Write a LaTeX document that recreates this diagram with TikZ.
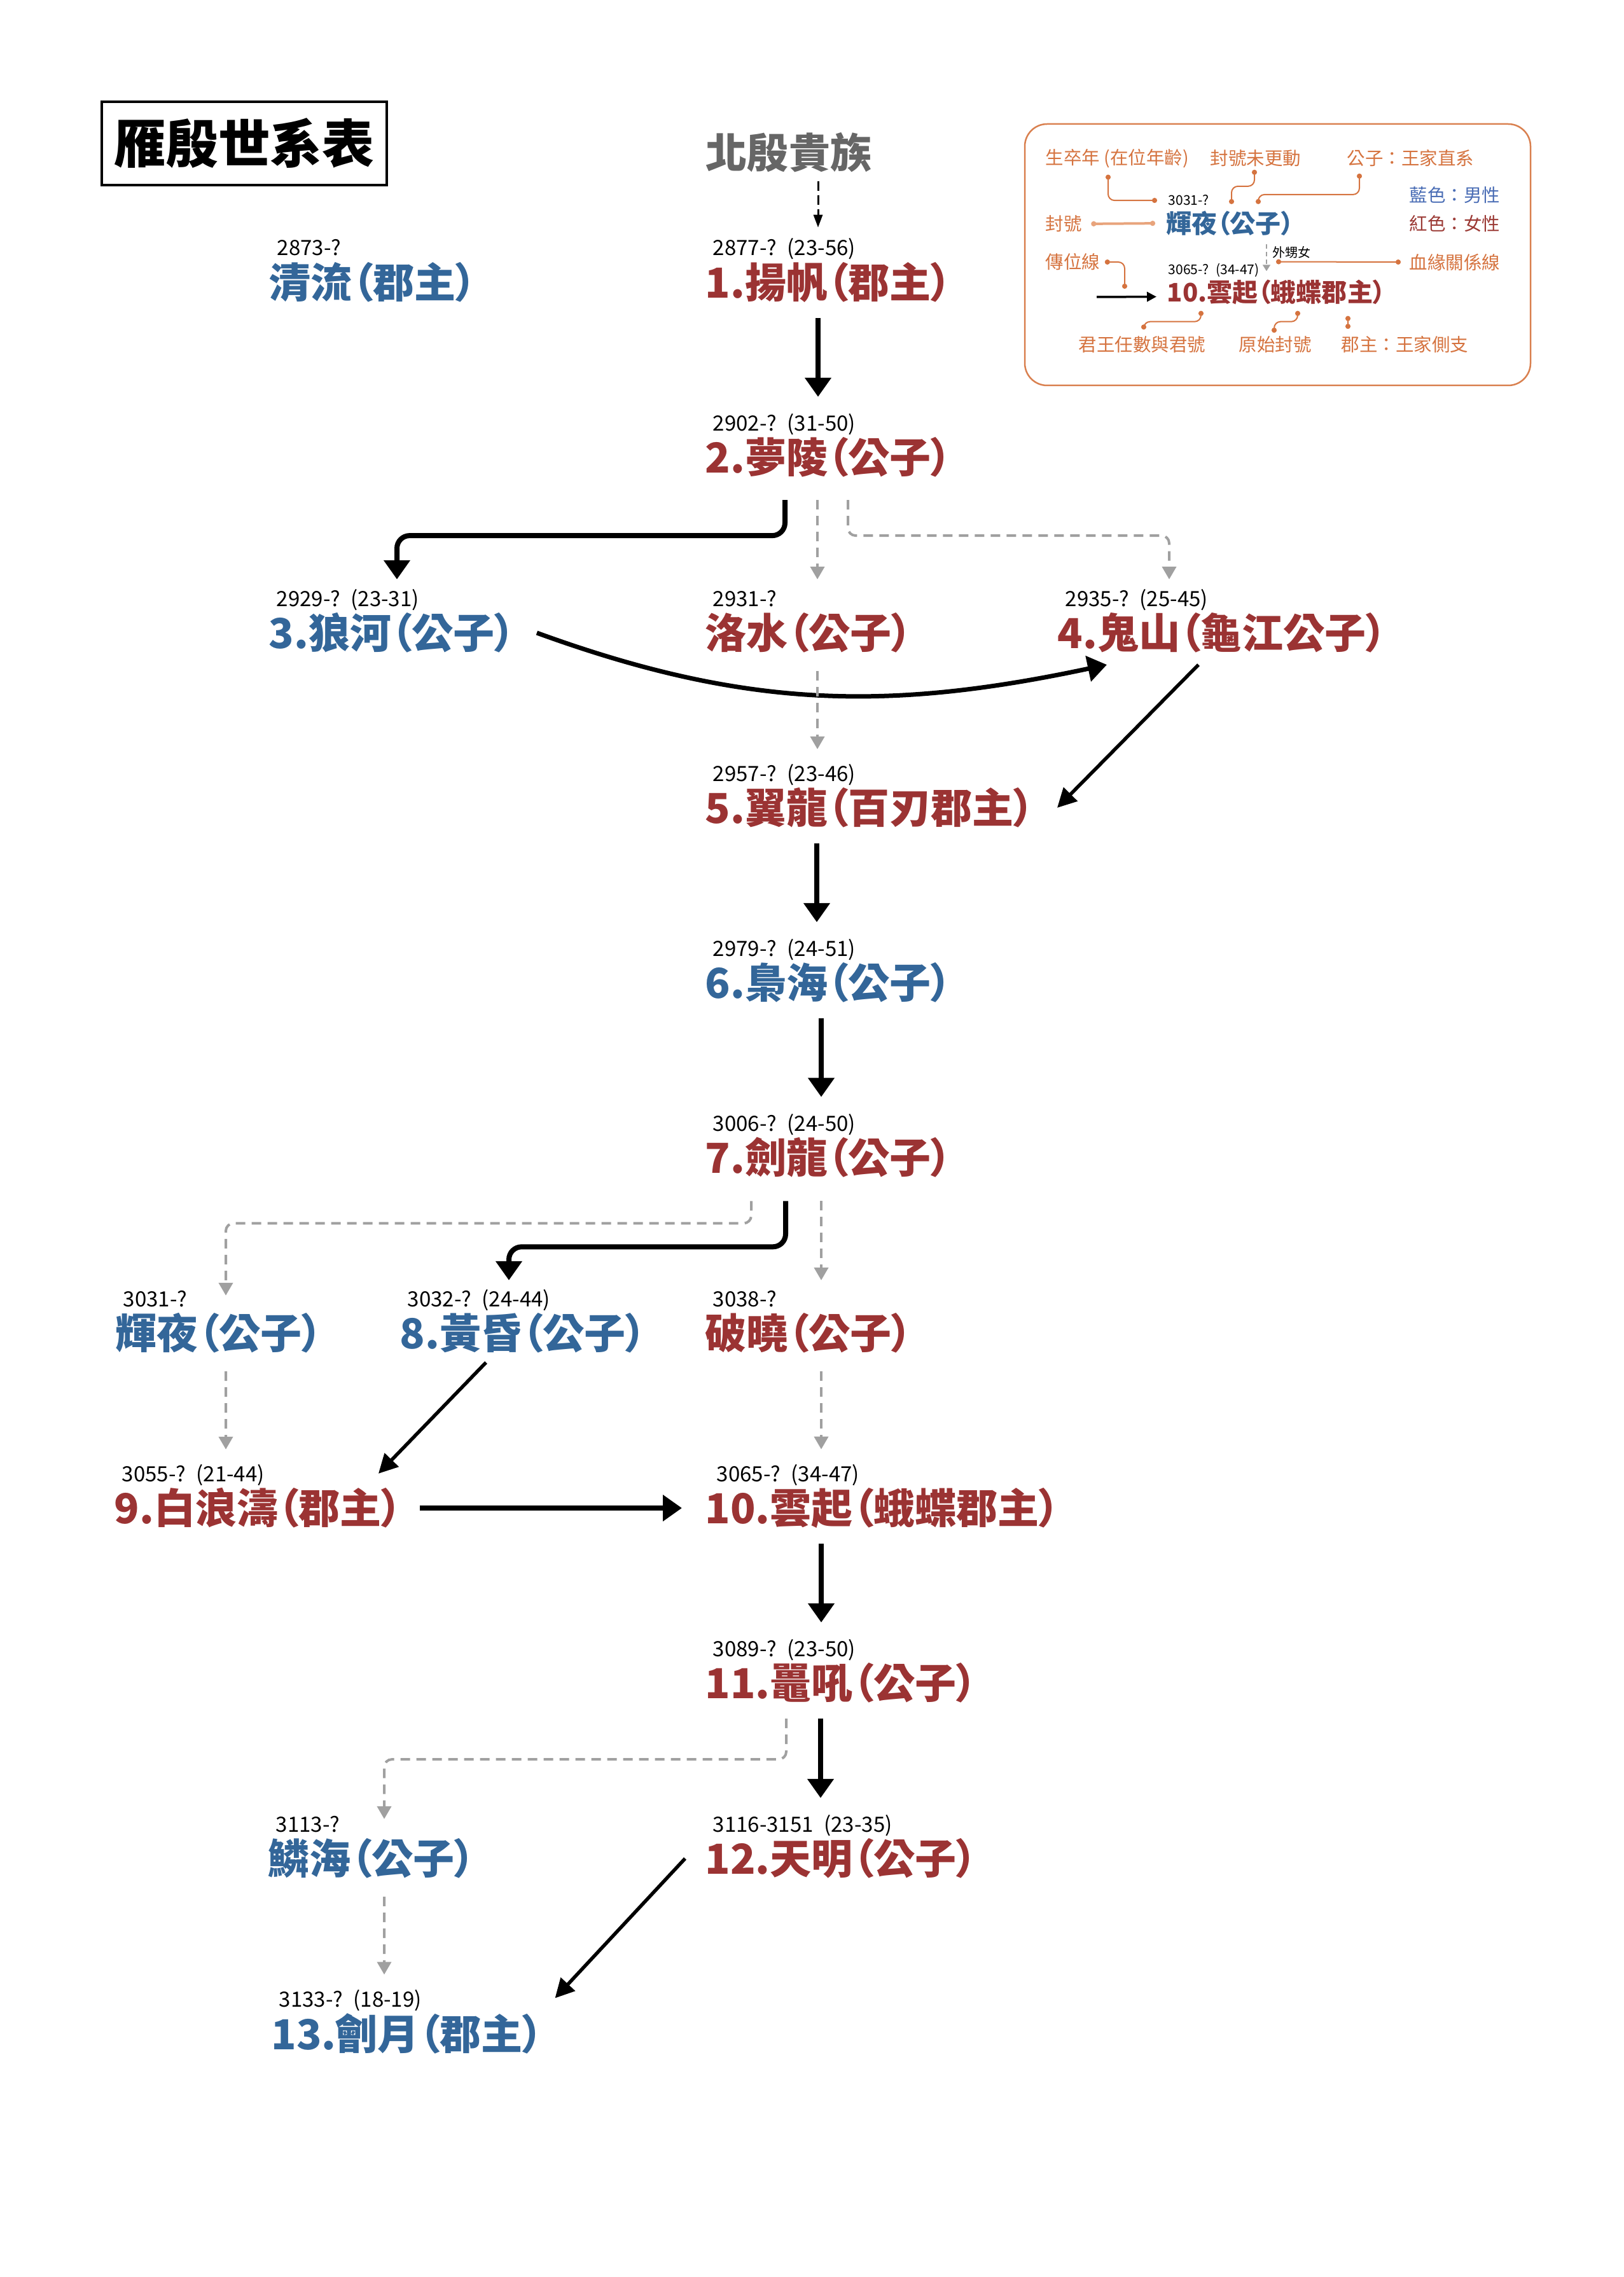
\documentclass[tikz,border=0pt]{standalone}
\usepackage{fontspec}
\setmainfont{Noto Sans CJK TC}
\newfontfamily\cjkname{Noto Sans CJK TC}[RawFeature=+palt]
\usetikzlibrary{arrows.meta}
\definecolor{nred}{HTML}{9B3333}
\definecolor{nblue}{HTML}{336699}
\definecolor{kgray}{HTML}{A0A0A0}
\definecolor{beigray}{HTML}{666666}
\definecolor{lorange}{HTML}{D5733F}
\definecolor{lpale}{HTML}{E8A47C}
\definecolor{lframe}{HTML}{D9804F}
\definecolor{lblue}{HTML}{4A6DB5}
\definecolor{lred}{HTML}{9B3A35}
\begin{document}
\begin{tikzpicture}[
    person/.style={anchor=west, inner sep=0pt, font=\cjkname\bfseries\fontsize{18.5pt}{20pt}\selectfont},
    fem/.style={person, text=nred},
    male/.style={person, text=nblue},
    yrs/.style={anchor=base west, inner sep=0pt, font=\fontsize{9.4pt}{10pt}\selectfont},
    succ/.style={draw=black, line width=0.08cm, -{Triangle[width=0.4cm,length=0.3cm]}},
    pass/.style={draw=black, line width=0.055cm, -{Triangle[width=0.3cm,length=0.3cm]}},
    kin/.style={draw=kgray, line width=0.04cm, dash pattern=on 0.15cm off 0.1cm,
      -{Triangle[width=0.22cm,length=0.2cm]}, rounded corners=0.12cm},
    vgap/.style={shorten <=0.24cm, shorten >=0.63cm},
    kgap/.style={shorten <=0.28cm, shorten >=0.6cm},
    lgtext/.style={anchor=west, inner sep=0pt, text=lorange, font=\fontsize{8.1pt}{9pt}\selectfont},
    lgperson/.style={anchor=west, inner sep=0pt, font=\cjkname\bfseries\fontsize{11.4pt}{12pt}\selectfont},
    lgyrs/.style={anchor=base west, inner sep=0pt, font=\fontsize{6pt}{7pt}\selectfont},
    lgline/.style={draw=lorange, line width=0.02cm, {Circle[length=0.08cm]}-{Circle[length=0.08cm]}, rounded corners=0.1cm},
  ]
  \useasboundingbox (0,0) rectangle (25.52,-35.80);

  % title and origin
  \node[draw, line width=0.045cm, minimum width=4.48cm, minimum height=1.31cm, inner sep=0pt,
    font=\bfseries\fontsize{23.3pt}{24pt}\selectfont] (title) at (3.84,-2.255) {雁殷世系表};
  \node[inner sep=0pt, text=beigray, font=\bfseries\fontsize{18.5pt}{20pt}\selectfont] (bei) at (12.40,-2.40) {北殷貴族};

  % generations
  \node[male] (qingliu) at (4.23,-4.44) {清流（郡主）};
  \node[yrs] (yqingliu) at ([shift={(0.12,0.42)}]qingliu.west) {2873-?};
  \node[fem] (n1) at (11.08,-4.44) {1.揚帆（郡主）};
  \node[yrs] (y1) at ([shift={(0.12,0.42)}]n1.west) {2877-?\enspace(23-56)};

  \node[fem] (n2) at (11.08,-7.19) {2.夢陵（公子）};
  \node[yrs] (y2) at ([shift={(0.12,0.42)}]n2.west) {2902-?\enspace(31-50)};

  \node[male] (n3) at (4.22,-9.95) {3.狼河（公子）};
  \node[yrs] (y3) at ([shift={(0.12,0.42)}]n3.west) {2929-?\enspace(23-31)};
  \node[fem] (luoshui) at (11.08,-9.95) {洛水（公子）};
  \node[yrs] (yluoshui) at ([shift={(0.12,0.42)}]luoshui.west) {2931-?};
  \node[fem] (n4) at (16.62,-9.95) {4.鬼山（龜江公子）};
  \node[yrs] (y4) at ([shift={(0.12,0.42)}]n4.west) {2935-?\enspace(25-45)};

  \node[fem] (n5) at (11.08,-12.70) {5.翼龍（百刃郡主）};
  \node[yrs] (y5) at ([shift={(0.12,0.42)}]n5.west) {2957-?\enspace(23-46)};

  \node[male] (n6) at (11.08,-15.45) {6.梟海（公子）};
  \node[yrs] (y6) at ([shift={(0.12,0.42)}]n6.west) {2979-?\enspace(24-51)};

  \node[fem] (n7) at (11.08,-18.20) {7.劍龍（公子）};
  \node[yrs] (y7) at ([shift={(0.12,0.42)}]n7.west) {3006-?\enspace(24-50)};

  \node[male] (huiye) at (1.81,-20.96) {輝夜（公子）};
  \node[yrs] (yhuiye) at ([shift={(0.12,0.42)}]huiye.west) {3031-?};
  \node[male] (n8) at (6.28,-20.96) {8.黃昏（公子）};
  \node[yrs] (y8) at ([shift={(0.12,0.42)}]n8.west) {3032-?\enspace(24-44)};
  \node[fem] (poxiao) at (11.08,-20.96) {破曉（公子）};
  \node[yrs] (ypoxiao) at ([shift={(0.12,0.42)}]poxiao.west) {3038-?};

  \node[fem] (n9) at (1.79,-23.71) {9.白浪濤（郡主）};
  \node[yrs] (y9) at ([shift={(0.12,0.42)}]n9.west) {3055-?\enspace(21-44)};
  \node[fem] (n10) at (11.08,-23.71) {10.雲起（蛾蝶郡主）};
  \node[yrs] (y10) at ([shift={(0.18,0.42)}]n10.west) {3065-?\enspace(34-47)};

  \node[fem] (n11) at (11.08,-26.46) {11.鼉吼（公子）};
  \node[yrs] (y11) at ([shift={(0.12,0.42)}]n11.west) {3089-?\enspace(23-50)};

  \node[male] (linhai) at (4.21,-29.22) {鱗海（公子）};
  \node[yrs] (ylinhai) at ([shift={(0.12,0.42)}]linhai.west) {3113-?};
  \node[fem] (n12) at (11.08,-29.22) {12.天明（公子）};
  \node[yrs] (y12) at ([shift={(0.12,0.42)}]n12.west) {3116-3151\enspace(23-35)};

  \node[male] (n13) at (4.26,-31.97) {13.劊月（郡主）};
  \node[yrs] (y13) at ([shift={(0.12,0.42)}]n13.west) {3133-?\enspace(18-19)};

  % succession
  \draw[line width=0.03cm, dash pattern=on 0.15cm off 0.07cm, -{Triangle[width=0.14cm,length=0.2cm]},
    shorten <=0.13cm, shorten >=0.54cm] ([xshift=0.46cm]bei.south) -- ([xshift=1.78cm]n1.north west);
  \draw[succ, vgap] ([xshift=1.78cm]n1.south west) -- ([xshift=1.78cm]n2.north west);
  \draw[succ, rounded corners=0.2cm, shorten <=0.35cm, shorten >=0.52cm]
    ([xshift=1.26cm]n2.south west) -- ++(0,-0.91) -| ([xshift=2.02cm]n3.north west);
  \draw[succ, line width=0.07cm] ([xshift=0.33cm]n3.east) to[out=-20,in=192] ([shift={(0.78,-0.18)}]n4.south west);
  \draw[pass] ([shift={(2.22,-0.18)}]n4.south west) -- ([xshift=0.35cm]n5.east);
  \draw[succ, vgap] ([xshift=1.76cm]n5.south west) -- ([xshift=1.76cm]n6.north west);
  \draw[succ, vgap] ([xshift=1.83cm]n6.south west) -- ([xshift=1.83cm]n7.north west);
  \draw[succ, rounded corners=0.2cm, shorten <=0.36cm, shorten >=0.51cm]
    ([xshift=1.27cm]n7.south west) -- ++(0,-1.08) -| ([xshift=1.72cm]n8.north west);
  \draw[pass] ([shift={(1.36,-0.14)}]n8.south west) -- ([shift={(-0.38,0.22)}]n9.north east);
  \draw[succ, shorten <=0.27cm, shorten >=0.36cm] (n9.east) -- (n10.west);
  \draw[succ, vgap] ([xshift=1.83cm]n10.south west) -- ([xshift=1.83cm]n11.north west);
  \draw[succ, vgap] ([xshift=1.82cm]n11.south west) -- ([xshift=1.82cm]n12.north west);
  \draw[pass] ([xshift=-0.31cm]n12.west) -- ([shift={(0.18,0.23)}]n13.north east);

  % kinship
  \draw[kin, shorten <=0.35cm, shorten >=0.52cm] ([xshift=1.77cm]n2.south west) -- ([xshift=1.77cm]luoshui.north west);
  \draw[kin, shorten <=0.35cm, shorten >=0.52cm]
    ([xshift=2.25cm]n2.south west) -- ++(0,-0.91) -| ([xshift=1.76cm]n4.north west);
  \draw[kin, kgap] ([xshift=1.77cm]luoshui.south west) -- ([xshift=1.77cm]n5.north west);
  \draw[kin, shorten <=0.36cm, shorten >=0.27cm]
    ([xshift=0.73cm]n7.south west) -- ++(0,-0.71) -| ([xshift=1.74cm]huiye.north west);
  \draw[kin, shorten <=0.36cm, shorten >=0.51cm] ([xshift=1.83cm]n7.south west) -- ([xshift=1.83cm]poxiao.north west);
  \draw[kin, kgap] ([xshift=1.74cm]huiye.south west) -- ([xshift=1.76cm]n9.north west);
  \draw[kin, kgap] ([xshift=1.83cm]poxiao.south west) -- ([xshift=1.83cm]n10.north west);
  \draw[kin, shorten <=0.24cm, shorten >=0.3cm]
    ([xshift=1.28cm]n11.south west) -- ++(0,-0.88) -| ([xshift=1.83cm]linhai.north west);
  \draw[kin, kgap] ([xshift=1.83cm]linhai.south west) -- ([xshift=1.78cm]n13.north west);

  % legend
  \draw[lframe, line width=0.025cm, rounded corners=0.35cm] (16.11,-1.95) rectangle (24.06,-6.06);
  \node[lgtext] (lbirth) at (16.43,-2.49) {生卒年 (在位年齡)};
  \node[lgtext] (lunch) at (19.02,-2.49) {封號未更動};
  \node[lgtext] (lprince) at (21.17,-2.49) {公子：王家直系};
  \node[lgtext, text=lblue] (lblue) at (22.15,-3.07) {藍色：男性};
  \node[lgtext, text=lred] (lred) at (22.15,-3.52) {紅色：女性};
  \node[lgtext] (ltitle) at (16.43,-3.52) {封號};
  \node[lgtext] (lline) at (16.43,-4.12) {傳位線};
  \node[lgtext] (lblood) at (22.15,-4.12) {血緣關係線};
  \node[lgtext] (lnum) at (16.95,-5.42) {君王任數與君號};
  \node[lgtext] (lorig) at (19.47,-5.42) {原始封號};
  \node[lgtext] (lbranch) at (21.08,-5.42) {郡主：王家側支};

  \node[lgperson, text=nblue] (lname) at (18.33,-3.51) {輝夜（公子）};
  \node[lgyrs] (lyrs) at (18.36,-3.23) {3031-?};
  \node[lgperson, text=nred] (lqueen) at (18.34,-4.595) {10.雲起（蛾蝶郡主）};
  \node[lgyrs] (lyrs2) at (18.36,-4.32) {3065-?\enspace(34-47)};
  \node[anchor=west, inner sep=0pt, font=\fontsize{5.7pt}{6pt}\selectfont] (lniece) at (20.00,-3.97) {外甥女};

  \coordinate (lin) at (17.24,-4.67);
  \draw[line width=0.035cm, -{Triangle[width=0.15cm,length=0.15cm]}] (lin) -- ([shift={(-0.16,-0.07)}]lqueen.west);
  \draw[kin, line width=0.02cm, dash pattern=on 0.07cm off 0.05cm, -{Triangle[width=0.12cm,length=0.1cm]}]
    ([shift={(1.58,-0.13)}]lname.south west) -- ([shift={(1.57,0.13)}]lqueen.north west) coordinate[pos=0.65] (kinmid);

  \draw[lgline] ([shift={(0.99,-0.1)}]lbirth.south west) |- ([xshift=-0.17cm]lyrs.west);
  \draw[lgline] ([shift={(0.7,-0.04)}]lunch.south west) -- ++(0,-0.26) -| ([shift={(1.03,0.1)}]lname.north west);
  \draw[lgline] ([shift={(0.2,-0.1)}]lprince.south west) -- ++(0,-0.33) -| ([shift={(1.45,0.1)}]lname.north west);
  \draw[lgline, lpale, line width=0.04cm, shorten <=0.14cm, shorten >=0.17cm] (ltitle.east) -- (lname.west);
  \draw[lgline] ([xshift=0.07cm]lline.east) -| ([shift={(0.44,0.13)}]lin);
  \draw[lgline] ([xshift=0.15cm]kinmid) -- ([xshift=-0.13cm]lblood.west);
  \draw[lgline] ([shift={(0.54,-0.17)}]lqueen.south west) -- ++(0,-0.09) -| ([shift={(1.03,0.1)}]lnum.north west);
  \draw[lgline] ([shift={(2.06,-0.17)}]lqueen.south west) -- ++(0,-0.09) -| ([shift={(0.56,0.13)}]lorig.north west);
  \draw[lgline] ([shift={(2.85,-0.17)}]lqueen.south west) -- ([shift={(0.11,0.11)}]lbranch.north west);
\end{tikzpicture}
\end{document}
